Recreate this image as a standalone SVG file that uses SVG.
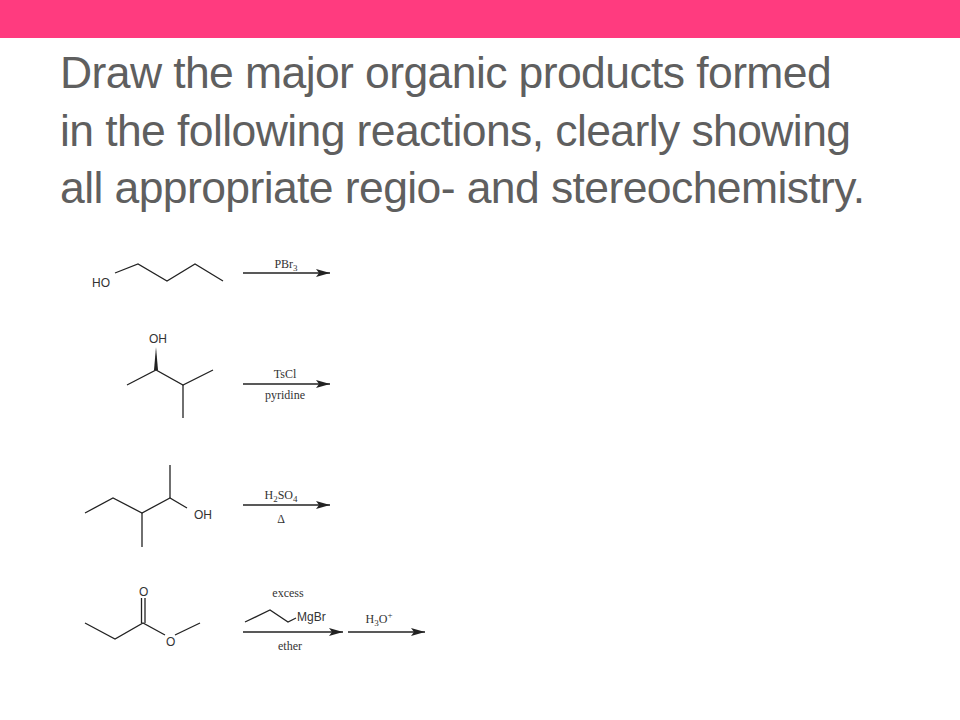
<svg xmlns="http://www.w3.org/2000/svg" width="960" height="720" viewBox="0 0 960 720">
<defs>
<style>
.t{font-family:"Liberation Sans",Arial,sans-serif;font-size:44.5px;fill:#5f5f5f;letter-spacing:-0.6px}
.b{stroke:#222;stroke-width:1.3;fill:none}
.a{font-family:"Liberation Sans",Arial,sans-serif;font-size:12px;fill:#333}
.r{font-family:"Liberation Serif","Times New Roman",serif;font-size:12px;fill:#333}
.ar{stroke:#222;stroke-width:1.5}
</style>
<marker id="h" viewBox="0 0 14 8" refX="14" refY="4" markerWidth="14" markerHeight="8" markerUnits="userSpaceOnUse" orient="auto"><path d="M0,0L14,4L0,8L3,4z" fill="#222"/></marker>
</defs>
<rect width="960" height="720" fill="#fff"/>
<rect width="960" height="38" fill="#ff3b7f"/>
<g id="title">
<text class="t" x="60" y="88">Draw the major organic products formed</text>
<text class="t" x="60" y="146">in the following reactions, clearly showing</text>
<text class="t" x="60" y="203">all appropriate regio- and stereochemistry.</text>
</g>
<g id="m1">
<text class="a" x="92" y="287">HO</text>
<polyline class="b" points="115,273 138,264 167,281 195,264 223,281"/>
</g>
<g id="m2">
<text class="a" x="149" y="343">OH</text>
<polygon points="154,347 158,347 156,370" fill="#222" transform="rotate(180 156 358.5)"/>
<polyline class="b" points="127,385 156,370 183,385 213,370"/>
<line class="b" x1="183" y1="385" x2="183" y2="418"/>
</g>
<g id="m3">
<polyline class="b" points="85,513 113,498 142,513 170,498 187,508"/>
<line class="b" x1="142" y1="513" x2="142" y2="547"/>
<line class="b" x1="170" y1="498" x2="170" y2="465"/>
<text class="a" x="194" y="519">OH</text>
</g>
<g id="m4">
<polyline class="b" points="85,623 115,639 143,623 165,635"/>
<line class="b" x1="175" y1="635" x2="200" y2="623"/>
<line class="b" x1="141.5" y1="623" x2="141.5" y2="598"/>
<line class="b" x1="145" y1="623" x2="145" y2="598"/>
<text class="a" x="139" y="596">O</text>
<text class="a" x="166" y="646">O</text>
</g>
<g id="connectors">
<line class="ar" x1="243" y1="273" x2="330" y2="273" marker-end="url(#h)"/>
<line class="ar" x1="243" y1="384" x2="330" y2="384" marker-end="url(#h)"/>
<line class="ar" x1="243" y1="505" x2="330" y2="505" marker-end="url(#h)"/>
<line class="ar" x1="243" y1="632" x2="343" y2="632" marker-end="url(#h)"/>
<line class="ar" x1="348" y1="632" x2="425" y2="632" marker-end="url(#h)"/>
</g>
<g id="labels">
<text class="r" x="286" y="268" text-anchor="middle">PBr<tspan font-size="9" dy="3">3</tspan></text>
<text class="r" x="285" y="378" text-anchor="middle">TsCl</text>
<text class="r" x="285" y="399" text-anchor="middle">pyridine</text>
<text class="r" x="281" y="499" text-anchor="middle">H<tspan font-size="9" dy="3">2</tspan><tspan dy="-3">SO</tspan><tspan font-size="9" dy="3">4</tspan></text>
<text class="r" x="281" y="523" text-anchor="middle">Δ</text>
<text class="r" x="288" y="597" text-anchor="middle">excess</text>
<polyline class="b" points="245,622 270,610 288,622 296,618"/>
<text class="a" x="297" y="621">MgBr</text>
<text class="r" x="290" y="650" text-anchor="middle">ether</text>
<text class="r" x="379" y="623" text-anchor="middle">H<tspan font-size="9" dy="3">3</tspan><tspan dy="-3">O</tspan><tspan font-size="9" dy="-5">+</tspan></text>
</g>
</svg>
